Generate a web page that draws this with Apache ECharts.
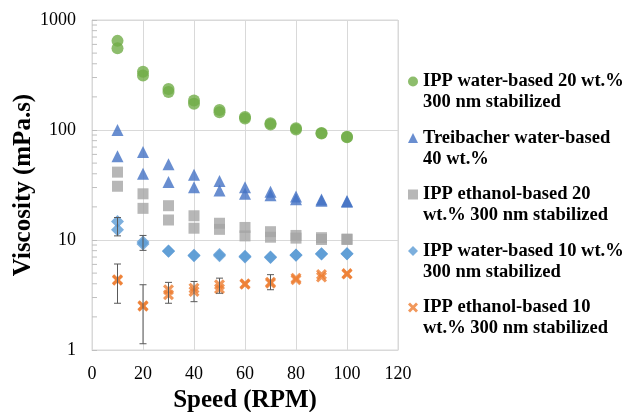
<!DOCTYPE html>
<html><head><meta charset="utf-8">
<script src="https://cdn.jsdelivr.net/npm/echarts@6/dist/echarts.min.js"></script>
<style>html,body{margin:0;padding:0;background:#fff}#c{width:629px;height:412px}</style>
</head><body><div id="c"></div>
<script>
const speeds = [10, 20, 30, 40, 50, 60, 70, 80, 90, 100];
const xTicks = [0, 20, 40, 60, 80, 100, 120];
const yTicks = [1, 10, 100, 1000];
const yMinorTicks = [2,3,4,5,6,7,8,9,20,30,40,50,60,70,80,90,200,300,400,500,600,700,800,900];

const names = [
  'IPP water-based 20 wt.%\n300 nm stabilized',
  'Treibacher water-based\n40 wt.%',
  'IPP ethanol-based 20\nwt.% 300 nm stabilized',
  'IPP water-based 10 wt.%\n300 nm stabilized',
  'IPP ethanol-based 10\nwt.% 300 nm stabilized'
];

const water20A = [646, 338, 236, 185, 152, 131, 115, 104, 94, 87];
const water20B = [553, 313, 222, 173, 145, 127, 112, 101, 93, 86];
const treibA = [100, 63, 48.7, 39.2, 34.3, 30.2, 27.5, 24.8, 23.3, 22.6];
const treibB = [57.7, 40, 33.6, 30.2, 28.2, 26.3, 25.5, 23.5, 22.8, 22.3];
const eth20A = [41.4, 26.3, 20.5, 16.6, 14.2, 13.0, 11.9, 11.0, 10.5, 10.2];
const eth20B = [30.8, 19.4, 15.2, 12.8, 12.5, 10.9, 10.6, 10.4, 10.1, 10.1];
const water10A = [14.7, 9.6, 7.93, 7.28, 7.4, 7.1, 7.0, 7.3, 7.5, 7.5];
const water10B = [12.4, 9.2, 7.9, 7.2, 7.2, 7.0, 6.95, 7.25, 7.45, 7.5];
const eth10A = [4.36, 2.53, 3.53, 3.65, 3.92, 4.0, 4.14, 4.5, 4.85, 4.95];
const eth10B = [4.3, 2.5, 3.18, 3.40, 3.6, 3.95, 4.05, 4.35, 4.6, 4.9];

const water10ErrX = [10, 20];
const water10ErrLow = [10.9, 8.05];
const water10ErrHigh = [16, 11.0];
const eth10ErrX = [10, 20, 30, 40, 50, 70];
const eth10ErrLow = [2.66, 1.14, 2.66, 2.75, 3.28, 3.53];
const eth10ErrHigh = [6.05, 3.92, 4.12, 4.2, 4.5, 4.84];

const colors = ['#70AD47', '#4472C4', '#A5A5A5', '#5B9BD5', '#ED7D31'];
const crossPath = 'path://M2,0 L5,3 L8,0 L10,2 L7,5 L10,8 L8,10 L5,7 L2,10 L0,8 L3,5 L0,2 Z';

function pairs(a, b) {
  const out = [];
  speeds.forEach((s, i) => { out.push([s, a[i]]); out.push([s, b[i]]); });
  return out;
}
function errData(xs, lo, hi) { return xs.map((x, i) => [x, lo[i], hi[i]]); }

function errRender(params, api) {
  const x = api.value(0), lo = api.value(1), hi = api.value(2);
  const p1 = api.coord([x, lo]), p2 = api.coord([x, hi]);
  const w = 3.5, st = {stroke: '#595959', lineWidth: 1};
  return {type: 'group', children: [
    {type: 'line', shape: {x1: p1[0], y1: p1[1], x2: p2[0], y2: p2[1]}, style: st},
    {type: 'line', shape: {x1: p1[0]-w, y1: p1[1], x2: p1[0]+w, y2: p1[1]}, style: st},
    {type: 'line', shape: {x1: p2[0]-w, y1: p2[1], x2: p2[0]+w, y2: p2[1]}, style: st}
  ]};
}

const serif = 'Liberation Serif';
const chart = echarts.init(document.getElementById('c'), null, {renderer: 'canvas'});
chart.setOption({
  animation: false,
  color: colors,
  grid: {left: 92, right: 231, top: 20, bottom: 62, show: true, borderColor: '#d9d9d9', borderWidth: 1,
         containLabel: false, outerBoundsMode: 'none'},
  legend: {
    orient: 'vertical', left: 403, top: 45,
    itemWidth: 10, itemHeight: 10, itemGap: -6.5,
    data: names,
    formatter: n => ' \n' + n,
    textStyle: {fontFamily: serif, fontWeight: 'bold', fontSize: 18.5, lineHeight: 21, color: '#000'}
  },
  xAxis: {
    type: 'value', min: xTicks[0], max: xTicks[xTicks.length-1], interval: 20,
    axisLine: {lineStyle: {color: '#d9d9d9'}},
    axisTick: {show: false},
    splitLine: {show: true, lineStyle: {color: '#d9d9d9'}},
    axisLabel: {fontFamily: serif, fontSize: 18, color: '#000', margin: 15},
    name: 'Speed (RPM)', nameLocation: 'middle', nameGap: 37,
    nameTextStyle: {fontFamily: serif, fontWeight: 'bold', fontSize: 25, color: '#000'}
  },
  yAxis: {
    type: 'log', logBase: 10, min: yTicks[0], max: yTicks[yTicks.length-1],
    axisLine: {show: true, lineStyle: {color: '#d9d9d9'}},
    axisTick: {show: true, inside: true, length: 5, lineStyle: {color: '#bfbfbf'}},
    splitLine: {show: true, lineStyle: {color: '#d9d9d9'}},
    axisLabel: {fontFamily: serif, fontSize: 18, color: '#000', margin: 16, formatter: v => String(Math.round(v))},
    name: 'Viscosity (mPa.s)', nameLocation: 'middle', nameGap: 43,
    nameTextStyle: {fontFamily: serif, fontWeight: 'bold', fontSize: 25, color: '#000'}
  },
  series: [
    {type: 'custom', name: 'minorTicks', silent: true, z: 1,
     data: yMinorTicks.map(v => [0, v]),
     renderItem: (p, api) => {
       const c = api.coord([0, api.value(1)]);
       return {type: 'line', shape: {x1: c[0], y1: c[1], x2: c[0]+5, y2: c[1]}, style: {stroke: '#bfbfbf', lineWidth: 1}};
     }},
    {type: 'scatter', name: names[0], symbol: 'circle', symbolSize: 12, data: pairs(water20A, water20B), itemStyle: {color: colors[0]}},
    {type: 'scatter', name: names[1], symbol: 'triangle', symbolSize: 12, data: pairs(treibA, treibB), itemStyle: {color: colors[1]}},
    {type: 'scatter', name: names[2], symbol: 'rect', symbolSize: 11, data: pairs(eth20A, eth20B), itemStyle: {color: colors[2]}},
    {type: 'scatter', name: names[3], symbol: 'diamond', symbolSize: 13, data: pairs(water10A, water10B), itemStyle: {color: colors[3]}},
    {type: 'custom', name: 'err10', silent: true, z: 3, renderItem: errRender,
     encode: {x: 0, y: [1, 2]}, data: errData(water10ErrX, water10ErrLow, water10ErrHigh)},
    {type: 'scatter', name: names[4], symbol: crossPath, symbolSize: 11, data: pairs(eth10A, eth10B), itemStyle: {color: colors[4]}},
    {type: 'custom', name: 'errEth10', silent: true, z: 3, renderItem: errRender,
     encode: {x: 0, y: [1, 2]}, data: errData(eth10ErrX, eth10ErrLow, eth10ErrHigh)}
  ]
});
</script>
</body></html>
